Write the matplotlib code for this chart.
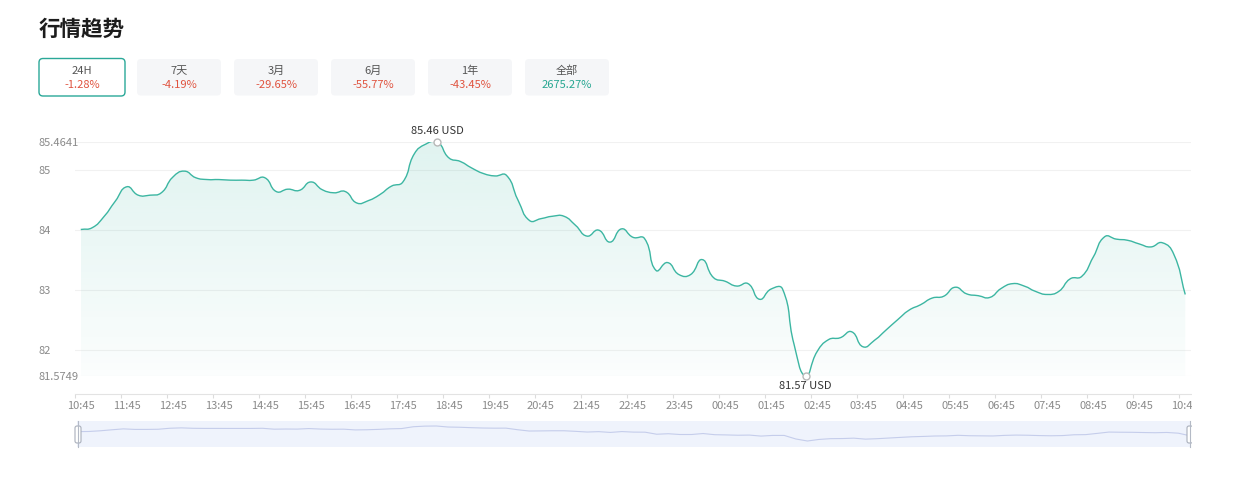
import numpy as np
import pandas as pd
import matplotlib
matplotlib.use("Agg")
import matplotlib.pyplot as plt
from matplotlib.path import Path
from matplotlib.patches import PathPatch, FancyBboxPatch, Rectangle

plt.rcParams['font.family'] = ['Noto Sans CJK SC', 'DejaVu Sans']

# ---- data ----
title = "行情趋势"
periods = ["24H", "7天", "3月", "6月", "1年", "全部"]
changes = [-1.28, -4.19, -29.65, -55.77, -43.45, 2675.27]
unit = "USD"

# 15-minute samples from 10:45 to 10:45 next day
times = pd.date_range("2024-01-01 10:45", periods=97, freq="15min").strftime("%H:%M").tolist()
prices = [
    84.01, 84.04, 84.22, 84.48, 84.72, 84.58, 84.58, 84.62, 84.88, 84.98,
    84.87, 84.84, 84.84, 84.83, 84.83, 84.83, 84.87, 84.64, 84.68, 84.66,
    84.80, 84.67, 84.62, 84.64, 84.45, 84.49, 84.59, 84.73, 84.80, 85.27,
    85.43, 85.4641, 85.20, 85.14, 85.03, 84.94, 84.90, 84.91, 84.50, 84.16,
    84.19, 84.23, 84.23, 84.08, 83.90, 84.00, 83.80, 84.02, 83.88, 83.86,
    83.33, 83.46, 83.26, 83.26, 83.51, 83.21, 83.15, 83.07, 83.11, 82.85,
    83.02, 83.02, 82.10, 81.5749, 81.98, 82.18, 82.21, 82.31, 82.06, 82.17,
    82.34, 82.51, 82.67, 82.76, 82.87, 82.90, 83.05, 82.94, 82.91, 82.88,
    83.03, 83.11, 83.07, 82.98, 82.93, 82.98, 83.19, 83.23, 83.55, 83.89,
    83.85, 83.83, 83.77, 83.72, 83.79, 83.60, 82.93,
]

LINE = "#3cb6a2"
RED = "#e0533f"
TEAL = "#26a691"
GREY = "#8a8a8a"

W, H = 1246, 479
fig = plt.figure(figsize=(W / 100, H / 100), dpi=100)


def fr(x0, y0, x1, y1):
    # pixel box (top-left origin) -> figure fraction
    return [x0 / W, 1 - y1 / H, (x1 - x0) / W, (y1 - y0) / H]


def smooth_path(xs, ys, smooth=0.5, sx=11.5, sy=60.2):
    # bezier curve through the points, like a "smooth" line
    n = len(xs)
    X = np.asarray(xs, float) * sx
    Y = np.asarray(ys, float) * sy
    cpb = np.zeros((n, 2))
    cpa = np.zeros((n, 2))
    for i in range(n):
        p, q = max(i - 1, 0), min(i + 1, n - 1)
        vx, vy = X[q] - X[p], Y[q] - Y[p]
        d0 = np.hypot(X[i] - X[p], Y[i] - Y[p])
        d1 = np.hypot(X[q] - X[i], Y[q] - Y[i])
        tot = (d0 + d1) or 1.0
        cpb[i] = X[i] - vx * smooth * d0 / tot, Y[i] - vy * smooth * d0 / tot
        cpa[i] = X[i] + vx * smooth * d1 / tot, Y[i] + vy * smooth * d1 / tot
    verts = [(X[0], Y[0])]
    codes = [Path.MOVETO]
    for i in range(n - 1):
        verts += [tuple(cpa[i]), tuple(cpb[i + 1]), (X[i + 1], Y[i + 1])]
        codes += [Path.CURVE4] * 3
    verts = np.array(verts) / [sx, sy]
    return verts, codes


x = np.arange(len(prices))
pmin, pmax = min(prices), max(prices)
imin, imax = int(np.argmin(prices)), int(np.argmax(prices))

# ---- main chart ----
ax = fig.add_axes(fr(75, 142, 1191, 376))
ax.set_xlim(-0.5, len(prices) - 0.5)
ax.set_ylim(pmin, pmax)

verts, codes = smooth_path(x, prices)
line_path = Path(verts, codes)
area_verts = np.vstack([verts, [[x[-1], pmin], [x[0], pmin], [x[0], pmin]]])
area_codes = codes + [Path.LINETO, Path.LINETO, Path.CLOSEPOLY]
area_patch = PathPatch(Path(area_verts, area_codes), fc="none", ec="none")
ax.add_patch(area_patch)

grad = np.zeros((256, 1, 4))
rgb = matplotlib.colors.to_rgb(LINE)
grad[..., 0], grad[..., 1], grad[..., 2] = rgb
grad[:, 0, 3] = np.linspace(0.16, 0.02, 256)
img = ax.imshow(grad, extent=[x[0], x[-1], pmin, pmax], aspect="auto",
                origin="upper", zorder=1)
img.set_clip_path(area_patch)

ax.add_patch(PathPatch(line_path, fc="none", ec=LINE, lw=1.0, zorder=3))

# max / min markers
for idx, val, dy in [(imax, pmax, 8), (imin, pmin, -7.5)]:
    ax.plot(idx, val, "o", ms=5, mfc="white", mec="#b8b8b8", mew=1,
            clip_on=False, zorder=5)
    ax.annotate(f"{val:.2f} {unit}", (idx, val), xytext=(0, dy),
                textcoords="offset points", ha="center", va="center",
                fontsize=8, color="#333333", annotation_clip=False)

# y axis
yticks = [pmin, 82, 83, 84, 85, pmax]
ax.set_yticks(yticks, [f"{v:g}" for v in yticks])
ax.tick_params(axis="y", length=0, pad=26.6, labelsize=8, labelcolor=GREY)
for lab in ax.get_yticklabels():
    lab.set_horizontalalignment("left")
ax.grid(axis="y", color="#f1f1f1", lw=0.8)
ax.set_axisbelow(True)

# x axis: ticks on category boundaries, labels on category centres
ax.set_xticks(np.arange(-0.5, len(prices) - 1, 4))
ax.set_xticklabels([])
ax.set_xticks(x[::4], times[::4], minor=True)
ax.tick_params(axis="x", which="major", length=3, color="#dcdcdc", direction="out")
ax.tick_params(axis="x", which="minor", length=0, pad=5, labelsize=8, labelcolor=GREY)

for s in ["top", "right", "left"]:
    ax.spines[s].set_visible(False)
ax.spines["bottom"].set_position(("outward", 13))
ax.spines["bottom"].set_color("#e3e3e3")
ax.spines["bottom"].set_linewidth(0.8)

# ---- zoom slider ----
sl = fig.add_axes(fr(77, 421, 1190, 447))
sl.set_facecolor("#eff3fc")
sl.set_xlim(x[0], x[-1])
sl.set_ylim(80.02, 86.76)
sl.plot(x, prices, color="#c5cdeb", lw=0.8)
sl.set_xticks([])
sl.set_yticks([])
for s in sl.spines.values():
    s.set_visible(False)

# ---- header, buttons, handles ----
ui = fig.add_axes([0, 0, 1, 1], zorder=5)
ui.set_xlim(0, W)
ui.set_ylim(H, 0)
ui.axis("off")
ui.patch.set_visible(False)

ui.text(39, 29, title, fontsize=15.5, fontweight="bold", va="center", color="#1c1c1c")

for k, (p, c) in enumerate(zip(periods, changes)):
    cx = 82 + 97 * k
    if k == 0:
        box = FancyBboxPatch((cx - 43, 58.5), 86, 37.5,
                             boxstyle="round,pad=0,rounding_size=4",
                             fc="white", ec="#2aa898", lw=1)
    else:
        box = FancyBboxPatch((cx - 42, 59), 84, 36.5,
                             boxstyle="round,pad=0,rounding_size=4",
                             fc="#f5f6f8", ec="none")
    ui.add_patch(box)
    ui.text(cx, 71, p, ha="center", va="center", fontsize=8, color="#555555")
    ui.text(cx, 84.5, f"{c:.2f}%", ha="center", va="center", fontsize=8,
            color=RED if c < 0 else TEAL)

for hx in [78, 1190]:
    ui.plot([hx, hx], [421, 447], color="#b4bac6", lw=0.8)
    ui.add_patch(FancyBboxPatch((hx - 3, 426), 6, 17,
                                boxstyle="round,pad=0,rounding_size=2",
                                fc="white", ec="#a9afbb", lw=0.8))

# canvas ends here, everything right of it is cut off
ui.add_patch(Rectangle((1191.5, 388), 60, 70, fc="white", ec="none", zorder=10))

fig.savefig("out.png", dpi=100)
